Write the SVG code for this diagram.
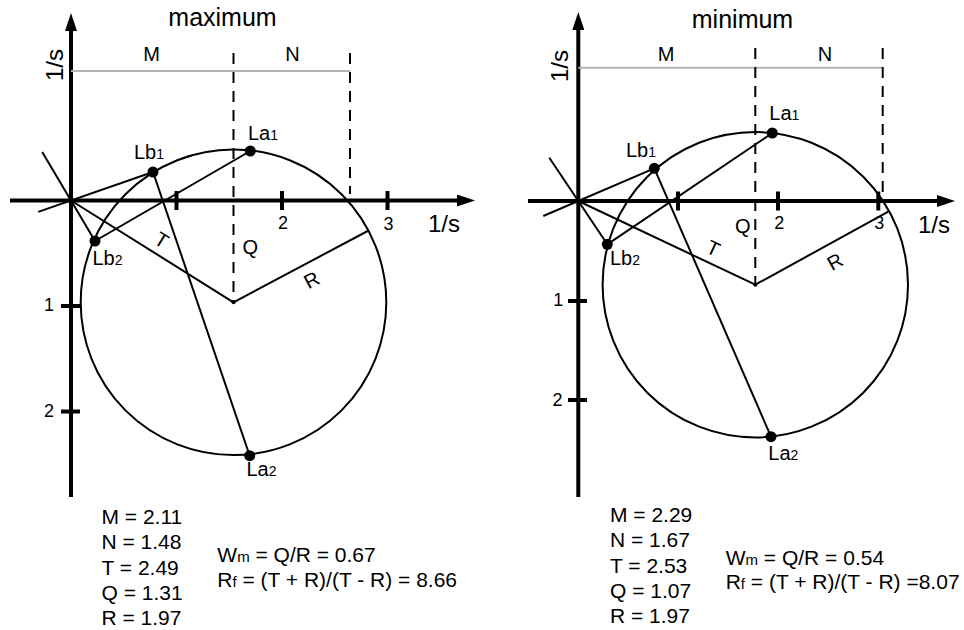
<svg xmlns="http://www.w3.org/2000/svg" width="964" height="630" viewBox="0 0 964 630">
<style>
text{font-family:"Liberation Sans",Arial,sans-serif;fill:#000}
.ax{stroke:#000;stroke-width:4;fill:none}
.tk{stroke:#000;stroke-width:4}
.ln{stroke:#000;stroke-width:2;fill:none}
.ds{stroke:#000;stroke-width:2;stroke-dasharray:11 8;fill:none}
.gr{stroke:#b4b4b4;stroke-width:2}
.pt{fill:#000}
.title{font-size:25px}
.axl{font-size:24px}
.lab{font-size:20px}
.sub{font-size:14px}
.num{font-size:18px}
.res{font-size:21px}
.rsub{font-size:15px}
</style>
<defs>
<marker id="arr" viewBox="0 0 18 12" markerWidth="18" markerHeight="12" refX="8" refY="6" orient="auto" markerUnits="userSpaceOnUse">
<path d="M0,0 L18,6 L0,12 z" fill="#000"/>
</marker>
</defs>

<g id="maximum">
<text class="title" x="222.5" y="26" text-anchor="middle">maximum</text>
<g id="max-axes">
<line class="ax" x1="10" y1="200.5" x2="465" y2="200.5" marker-end="url(#arr)"/>
<line class="ax" x1="71" y1="497" x2="71" y2="23" marker-end="url(#arr)"/>
<line class="tk" x1="176.5" y1="191" x2="176.5" y2="210"/>
<line class="tk" x1="282" y1="191" x2="282" y2="210"/>
<line class="tk" x1="387.5" y1="191" x2="387.5" y2="210"/>
<line class="tk" x1="61" y1="306" x2="80" y2="306"/>
<line class="tk" x1="61" y1="411.5" x2="80" y2="411.5"/>
<text class="num" x="283" y="229" text-anchor="middle">2</text>
<text class="num" x="388.5" y="230" text-anchor="middle">3</text>
<text class="num" x="49" y="311" text-anchor="middle">1</text>
<text class="num" x="49" y="417" text-anchor="middle">2</text>
<text class="axl" x="428" y="232">1/s</text>
<text class="axl" transform="translate(63,65) rotate(-90)" text-anchor="middle">1/s</text>
</g>
<g id="max-guides">
<line class="gr" x1="71" y1="71" x2="350" y2="71"/>
<line class="ds" x1="233.5" y1="53" x2="233.5" y2="302"/>
<line class="ds" x1="350" y1="53" x2="350" y2="194"/>
<text class="lab" x="151.5" y="61" text-anchor="middle">M</text>
<text class="lab" x="292.5" y="61" text-anchor="middle">N</text>
</g>
<g id="max-connectors">
<circle class="ln" cx="233.5" cy="302.3" r="152.8"/>
<line class="ln" x1="42.2" y1="151.9" x2="95" y2="241"/>
<line class="ln" x1="38.2" y1="211.9" x2="153" y2="172"/>
<line class="ln" x1="95" y1="241" x2="250.3" y2="151"/>
<line class="ln" x1="153" y1="172" x2="249.7" y2="455.7"/>
<line class="ln" x1="71" y1="200.5" x2="233.5" y2="302.3"/>
<line class="ln" x1="233.5" y1="302.3" x2="367.7" y2="231"/>
</g>
<g id="max-points">
<circle class="pt" cx="233.5" cy="302.3" r="2"/>
<circle class="pt" cx="250.3" cy="151" r="5.5"/>
<circle class="pt" cx="153" cy="172" r="5.5"/>
<circle class="pt" cx="95" cy="241" r="5.5"/>
<circle class="pt" cx="249.7" cy="455.7" r="5.5"/>
<text class="lab" x="248" y="140">La<tspan class="sub">1</tspan></text>
<text class="lab" x="134" y="158.5">Lb<tspan class="sub">1</tspan></text>
<text class="lab" x="92.5" y="265">Lb<tspan class="sub">2</tspan></text>
<text class="lab" x="246.5" y="476">La<tspan class="sub">2</tspan></text>
<text class="lab" x="242.5" y="254">Q</text>
<text class="lab" transform="translate(161.7,240) rotate(32)" text-anchor="middle" dy="7">T</text>
<text class="lab" transform="translate(311.7,280) rotate(-28)" text-anchor="middle" dy="7">R</text>
</g>
<g id="max-results">
<text class="res" x="101.5" y="524">M = 2.11</text>
<text class="res" x="101.5" y="549.3">N = 1.48</text>
<text class="res" x="101.5" y="574.5">T = 2.49</text>
<text class="res" x="101.5" y="599.5">Q = 1.31</text>
<text class="res" x="101.5" y="625">R = 1.97</text>
<text class="res" x="217.3" y="562.3">W<tspan class="rsub">m</tspan> = Q/R = 0.67</text>
<text class="res" x="217.3" y="587.3">R<tspan class="rsub">f</tspan> = (T + R)/(T - R) = 8.66</text>
</g>
</g>

<g id="minimum">
<text class="title" x="742.5" y="28" text-anchor="middle">minimum</text>
<g id="min-axes">
<line class="ax" x1="528" y1="201" x2="945" y2="201" marker-end="url(#arr)"/>
<line class="ax" x1="578.3" y1="497" x2="578.3" y2="22" marker-end="url(#arr)"/>
<line class="tk" x1="678" y1="191.5" x2="678" y2="210.5"/>
<line class="tk" x1="778" y1="191.5" x2="778" y2="210.5"/>
<line class="tk" x1="878.3" y1="191.5" x2="878.3" y2="210.5"/>
<line class="tk" x1="568" y1="301" x2="587" y2="301"/>
<line class="tk" x1="568" y1="400" x2="587" y2="400"/>
<text class="num" x="779.3" y="229" text-anchor="middle">2</text>
<text class="num" x="879.3" y="229" text-anchor="middle">3</text>
<text class="num" x="558.3" y="306" text-anchor="middle">1</text>
<text class="num" x="557.5" y="406" text-anchor="middle">2</text>
<text class="axl" x="918" y="233">1/s</text>
<text class="axl" transform="translate(568,66) rotate(-90)" text-anchor="middle">1/s</text>
</g>
<g id="min-guides">
<line class="gr" x1="578.3" y1="67.7" x2="883" y2="67.7"/>
<line class="ds" x1="755.3" y1="48" x2="755.3" y2="284.5"/>
<line class="ds" x1="882.7" y1="48" x2="882.7" y2="201"/>
<text class="lab" x="666" y="61" text-anchor="middle">M</text>
<text class="lab" x="825" y="61" text-anchor="middle">N</text>
</g>
<g id="min-connectors">
<circle class="ln" cx="755.3" cy="284.7" r="152.7"/>
<line class="ln" x1="549.3" y1="157.7" x2="607.3" y2="244.3"/>
<line class="ln" x1="543.3" y1="216" x2="654.3" y2="168.3"/>
<line class="ln" x1="607.3" y1="244.3" x2="772.3" y2="133"/>
<line class="ln" x1="654.3" y1="168.3" x2="771" y2="436.7"/>
<line class="ln" x1="578.3" y1="201" x2="755.3" y2="284.7"/>
<line class="ln" x1="755.3" y1="284.7" x2="888.3" y2="211.7"/>
</g>
<g id="min-points">
<circle class="pt" cx="755.3" cy="284.7" r="2"/>
<circle class="pt" cx="772.3" cy="133" r="5.5"/>
<circle class="pt" cx="654.3" cy="168.3" r="5.5"/>
<circle class="pt" cx="607.3" cy="244.3" r="5.5"/>
<circle class="pt" cx="771" cy="436.7" r="5.5"/>
<text class="lab" x="769.3" y="120">La<tspan class="sub">1</tspan></text>
<text class="lab" x="626" y="157.3">Lb<tspan class="sub">1</tspan></text>
<text class="lab" x="610" y="265">Lb<tspan class="sub">2</tspan></text>
<text class="lab" x="768.3" y="460">La<tspan class="sub">2</tspan></text>
<text class="lab" x="735" y="232.5">Q</text>
<text class="lab" transform="translate(713.3,248.3) rotate(25)" text-anchor="middle" dy="7">T</text>
<text class="lab" transform="translate(835,261.7) rotate(-29)" text-anchor="middle" dy="7">R</text>
</g>
<g id="min-results">
<text class="res" x="610" y="521.7">M = 2.29</text>
<text class="res" x="610" y="547.2">N = 1.67</text>
<text class="res" x="610" y="572.7">T = 2.53</text>
<text class="res" x="610" y="597.9">Q = 1.07</text>
<text class="res" x="610" y="623.3">R = 1.97</text>
<text class="res" x="725.7" y="565">W<tspan class="rsub">m</tspan> = Q/R = 0.54</text>
<text class="res" x="725.7" y="589.3">R<tspan class="rsub">f</tspan> = (T + R)/(T - R) =8.07</text>
</g>
</g>
</svg>
